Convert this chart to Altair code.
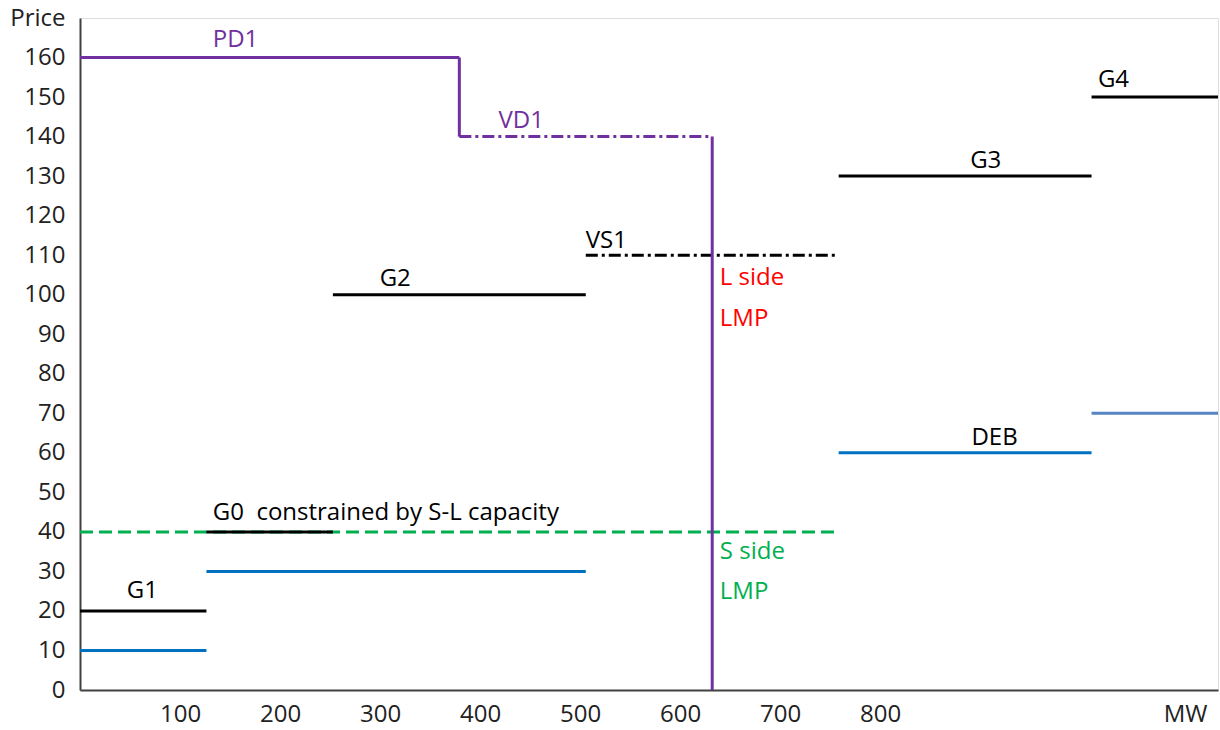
import altair as alt
import pandas as pd

# --- data (MW ranges and prices) ---
SUPPLY_NAMES = ["G1", "G0", "G2", "G3", "G4"]
SUPPLY_X0 = [0, 100, 200, 600, 800]
SUPPLY_X1 = [100, 200, 400, 800, 900]
SUPPLY_PRICE = [20, 40, 100, 130, 150]

VS1_X0, VS1_X1, VS1_PRICE = [400], [600], [110]

BLUE_X0 = [0, 100, 600]
BLUE_X1 = [100, 400, 800]
BLUE_PRICE = [10, 30, 60]
BLUE2_X0, BLUE2_X1, BLUE2_PRICE = [800], [900], [70]

SLMP_X0, SLMP_X1, SLMP_PRICE = [0], [600], [40]

PD1_X0, PD1_X1, PD1_PRICE = [0], [300], [160]
VD1_X0, VD1_X1, VD1_PRICE = [300], [500], [140]
DEMAND_VERT_X = [300, 500]
DEMAND_VERT_Y0 = [160, 140]
DEMAND_VERT_Y1 = [140, 0]

LABEL_TEXT = ["PD1", "VD1", "VS1", "G2", "G3", "G4", "DEB", "G1",
              "G0\u00a0 constrained by S-L capacity", "L side", "LMP", "S side", "LMP"]
LABEL_X = [105, 331, 400, 237, 704, 805, 705, 37, 105, 506, 506, 506, 506]
LABEL_Y = [164.5, 144, 113.5, 104, 133.8, 154.2, 63.8, 25, 44.8, 104.2, 93.8, 34.8, 24.7]
LABEL_COLOR = ["#7030A0", "#7030A0", "#000000", "#000000", "#000000", "#000000", "#000000",
               "#000000", "#000000", "#FF0000", "#FF0000", "#00B050", "#00B050"]

Y_TICKS = list(range(0, 171, 10))
X_TICK_LABELS = ["100", "200", "300", "400", "500", "600", "700", "800", "MW"]
X_TICK_POS = [79.1, 158.2, 237.3, 316.4, 395.5, 474.6, 553.7, 632.8, 874]

FONT = "Open Sans"
FS = 24

xs = alt.Scale(domain=[0, 900], nice=False, zero=False)
ys = alt.Scale(domain=[0, 170], nice=False)

label_map = "{" + ",".join(f"'{p}':'{t}'" for p, t in zip(X_TICK_POS, X_TICK_LABELS)) + "}"

x_axis = alt.Axis(values=X_TICK_POS, labelExpr=f"{label_map}[toString(datum.value)]",
                  title=None, ticks=False, grid=False, domainColor="#404040", domainWidth=2,
                  labelFont=FONT, labelFontSize=FS, labelColor="#222222",
                  labelPadding=24, labelBaseline="middle", labelOverlap=False, labelFlush=False)
y_axis = alt.Axis(values=Y_TICKS, labelExpr="datum.value == 170 ? 'Price' : datum.value",
                  title=None, ticks=False, grid=False, domainColor="#404040", domainWidth=2,
                  labelFont=FONT, labelFontSize=FS, labelColor="#222222",
                  labelPadding=15, labelOverlap=False, labelFlush=False, labelBaseline="middle")


def hseg(x0, x1, y, color, width=3, dash=None):
    df = pd.DataFrame({"x0": x0, "x1": x1, "y": y})
    kw = dict(color=color, strokeWidth=width)
    if dash:
        kw["strokeDash"] = dash
    return alt.Chart(df).mark_rule(**kw).encode(
        x=alt.X("x0:Q", scale=xs, axis=x_axis),
        x2="x1:Q",
        y=alt.Y("y:Q", scale=ys, axis=y_axis),
    )


green = hseg(SLMP_X0, SLMP_X1, SLMP_PRICE, "#00B050", dash=[13, 6])
supply = hseg(SUPPLY_X0, SUPPLY_X1, SUPPLY_PRICE, "#000000")
vs1 = hseg(VS1_X0, VS1_X1, VS1_PRICE, "#000000", dash=[12, 4, 3, 4])
blue = hseg(BLUE_X0, BLUE_X1, BLUE_PRICE, "#0070C0")
blue2 = hseg(BLUE2_X0, BLUE2_X1, BLUE2_PRICE, "#5585C5")
pd1 = hseg(PD1_X0, PD1_X1, PD1_PRICE, "#7030A0")
vd1 = hseg(VD1_X0, VD1_X1, VD1_PRICE, "#7030A0", dash=[12, 4, 3, 4])

vert = alt.Chart(pd.DataFrame({"x": DEMAND_VERT_X, "y0": DEMAND_VERT_Y0, "y1": DEMAND_VERT_Y1})).mark_rule(
    color="#7030A0", strokeWidth=3
).encode(
    x=alt.X("x:Q", scale=xs, axis=x_axis),
    y=alt.Y("y0:Q", scale=ys, axis=y_axis),
    y2="y1:Q",
)

labels = alt.Chart(pd.DataFrame({"t": LABEL_TEXT, "x": LABEL_X, "y": LABEL_Y, "c": LABEL_COLOR})).mark_text(
    align="left", baseline="middle", font=FONT, fontSize=FS
).encode(
    x=alt.X("x:Q", scale=xs, axis=x_axis),
    y=alt.Y("y:Q", scale=ys, axis=y_axis),
    text="t:N",
    color=alt.Color("c:N", scale=None),
)

chart = alt.layer(green, supply, vs1, blue, blue2, pd1, vd1, vert, labels).properties(
    width=1138, height=672,
    autosize=alt.AutoSizeParams(type="none"),
    padding={"left": 80, "top": 18, "right": 2, "bottom": 40},
).configure_view(strokeWidth=0).configure(background="white")

chart.save("out.html", embed_options={"renderer": "svg", "actions": False})
